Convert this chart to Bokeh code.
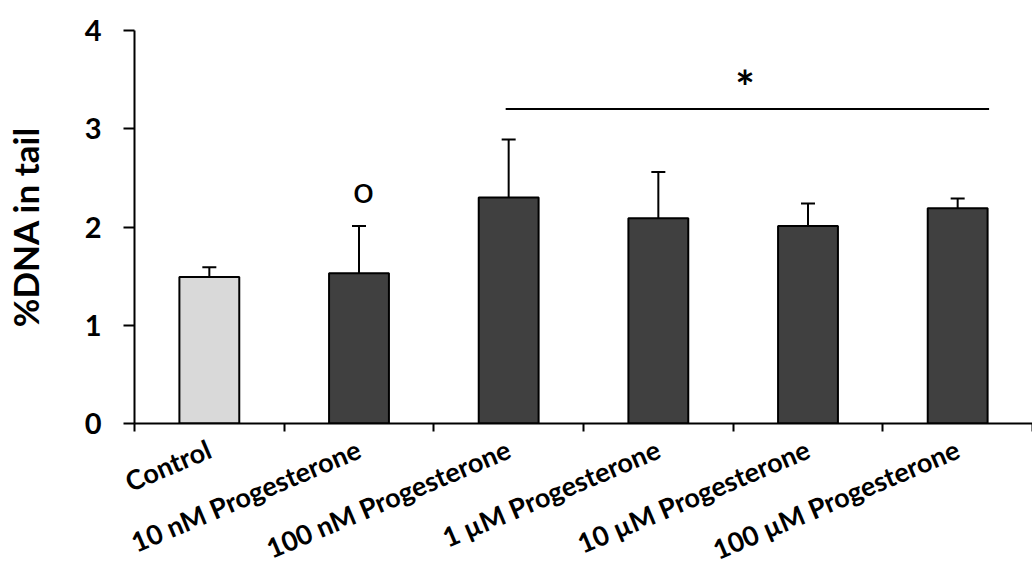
from bokeh.plotting import figure
from bokeh.models import (ColumnDataSource, Range1d, FixedTicker, Whisker, TeeHead, Label)
from bokeh.embed import file_html
from bokeh.resources import INLINE

categories = ["Control", "10 nM Progesterone", "100 nM Progesterone",
              "1 \u00b5M Progesterone", "10 \u00b5M Progesterone", "100 \u00b5M Progesterone"]
means = [1.49, 1.53, 2.30, 2.09, 2.01, 2.19]
errors = [0.10, 0.48, 0.59, 0.47, 0.23, 0.10]
bar_colors = ["#d9d9d9", "#404040", "#404040", "#404040", "#404040", "#404040"]
y_ticks = [0, 1, 2, 3, 4]

FONT = "Lato"

xs = [i + 0.5 for i in range(len(categories))]
src = ColumnDataSource(dict(
    x=xs, top=means, upper=[m + e for m, e in zip(means, errors)],
    color=bar_colors, cat=categories))

p = figure(width=1032, height=584, output_backend="svg", toolbar_location=None,
           x_range=Range1d(0, len(categories)), y_range=Range1d(0, 4),
           min_border_left=133, min_border_right=0, min_border_top=30,
           min_border_bottom=161)
p.outline_line_color = None
p.xgrid.visible = False
p.ygrid.visible = False
p.background_fill_color = "white"
p.border_fill_color = "white"

p.vbar(x="x", top="top", width=0.4, bottom=0, source=src, fill_color="color",
       line_color="black", line_width=2)

p.add_layout(Whisker(base="x", lower="top", upper="upper", source=src,
                     dimension="height", line_color="black", line_width=2,
                     upper_head=TeeHead(size=14, line_color="black", line_width=2),
                     lower_head=None, level="underlay"))

# x axis: tick marks at category boundaries, category names rotated
xa = p.xaxis[0]
xa.ticker = FixedTicker(ticks=xs, minor_ticks=list(range(len(categories) + 1)))
xa.major_label_overrides = {x: c for x, c in zip(xs, categories)}
xa.major_tick_out = 0
xa.major_tick_in = 0
xa.minor_tick_out = 8
xa.minor_tick_in = 0
xa.minor_tick_line_width = 2
xa.axis_line_width = 2
xa.major_label_orientation = 0.40
xa.major_label_text_font = FONT
xa.major_label_text_font_style = "bold"
xa.major_label_text_font_size = "27px"
xa.major_label_text_color = "black"
xa.major_label_standoff = 16

# y axis
ya = p.yaxis[0]
ya.ticker = FixedTicker(ticks=y_ticks, minor_ticks=[])
ya.major_tick_out = 11
ya.major_tick_in = 0
ya.major_tick_line_width = 2
ya.axis_line_width = 2
ya.major_label_text_font = FONT
ya.major_label_text_font_style = "bold"
ya.major_label_text_font_size = "29px"
ya.major_label_text_color = "black"
ya.major_label_standoff = 22
ya.axis_label = "%DNA in tail"
ya.axis_label_text_font = FONT
ya.axis_label_text_font_style = "bold"
ya.axis_label_text_font_size = "35px"
ya.axis_label_text_color = "black"
ya.axis_label_standoff = 36

# significance annotations
p.segment(x0=[2.48], y0=[3.2], x1=[5.71], y1=[3.2], line_color="black", line_width=2)
p.add_layout(Label(x=4.08, y=3.51, text="*", text_font=FONT, text_font_style="bold",
                   text_font_size="46px", text_align="center", text_baseline="middle",
                   text_color="black", y_offset=-8))
p.add_layout(Label(x=1.53, y=2.35, text="o", text_font=FONT,
                   text_font_size="37px", text_align="center", text_baseline="middle",
                   text_color="black", y_offset=4))

open("out.html", "w").write(file_html(p, INLINE))
